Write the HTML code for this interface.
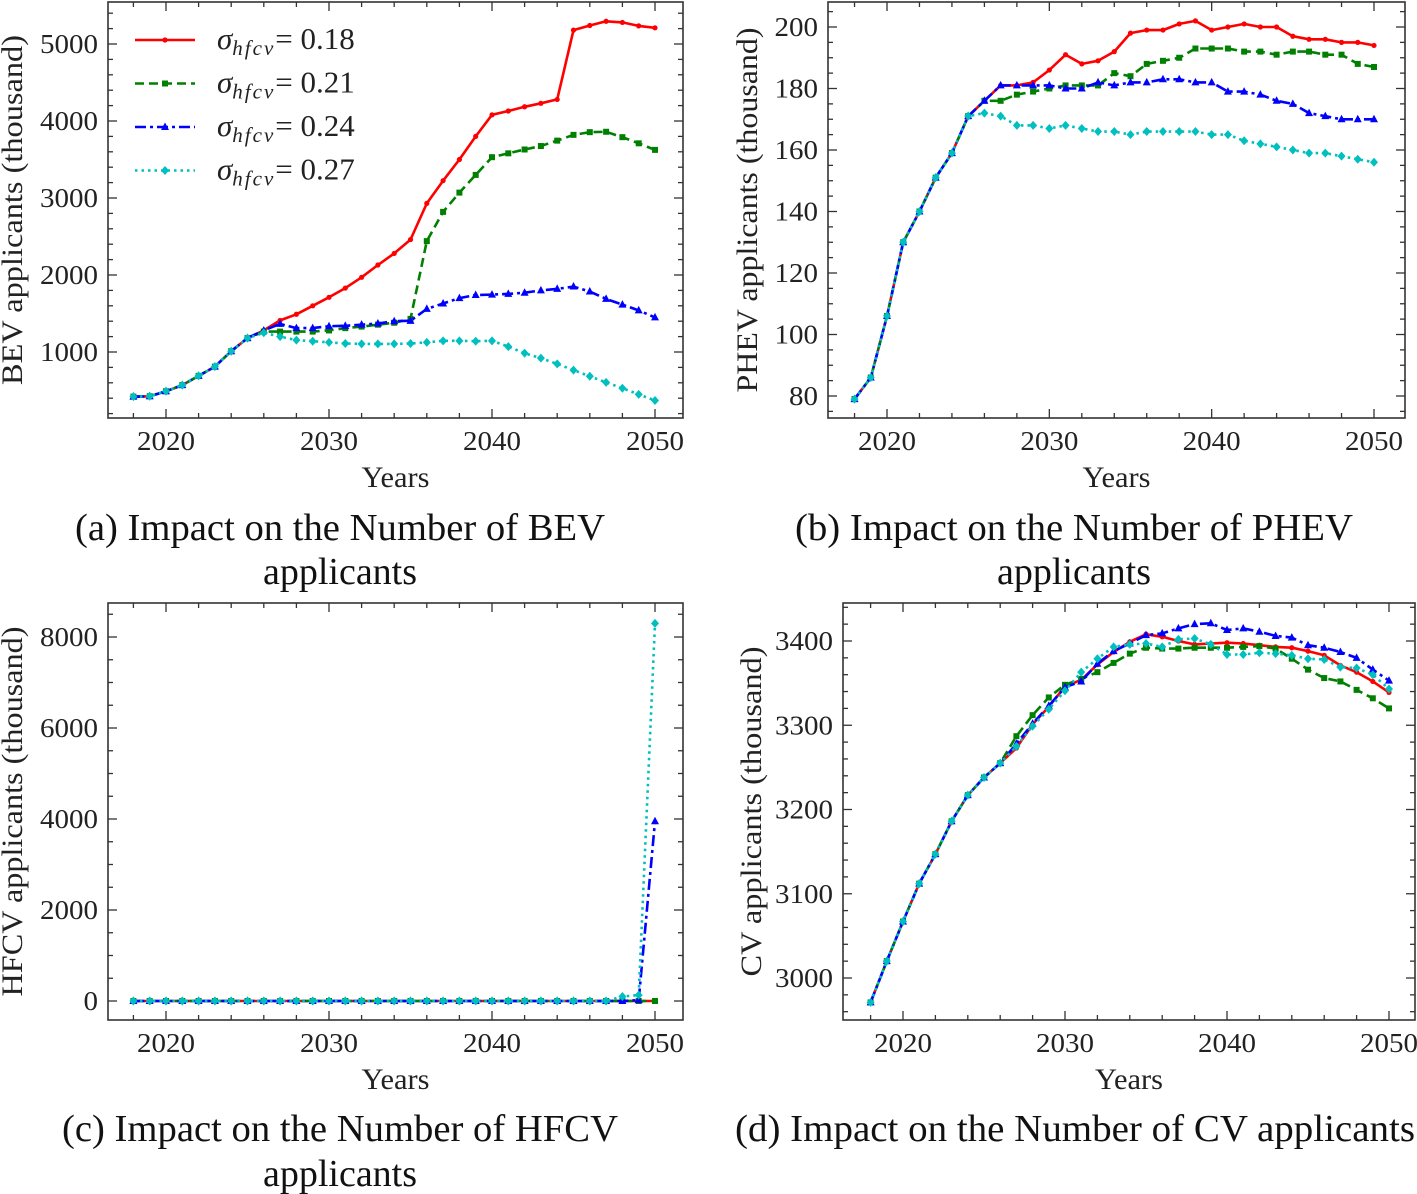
<!DOCTYPE html>
<html><head><meta charset="utf-8">
<style>
html,body{margin:0;padding:0;background:#fff;}
svg{display:block;font-family:"Liberation Serif","DejaVu Serif",serif;}
.tk{font-size:27px;fill:#222;font-family:"Liberation Serif",serif;}
.ax{font-size:30px;fill:#222;}
.cap{font-size:38px;fill:#111;}
.lg{font-size:31px;fill:#222;}
</style></head>
<body>
<svg id="fig" width="1417" height="1194" viewBox="0 0 1417 1194" xmlns="http://www.w3.org/2000/svg">
<text class="cap" x="75" y="540" textLength="530" lengthAdjust="spacingAndGlyphs">(a) Impact on the Number of BEV</text>
<text class="cap" x="340" y="584" text-anchor="middle">applicants</text>
<text class="cap" x="795" y="540" textLength="558" lengthAdjust="spacingAndGlyphs">(b) Impact on the Number of PHEV</text>
<text class="cap" x="1074" y="584" text-anchor="middle">applicants</text>
<text class="cap" x="62" y="1141" textLength="556" lengthAdjust="spacingAndGlyphs">(c) Impact on the Number of HFCV</text>
<text class="cap" x="340" y="1186" text-anchor="middle">applicants</text>
<text class="cap" x="735" y="1141" textLength="680" lengthAdjust="spacingAndGlyphs">(d) Impact on the Number of CV applicants</text>
</svg>
<script>
const years = []; for (let y = 2018; y <= 2050; y++) years.push(y);
const seriesLabels = ["0.18","0.21","0.24","0.27"];
const common = [420,425,490,570,690,810,1010,1180];
const bevRed = common.concat([1280,1410,1490,1600,1710,1830,1970,2130,2280,2460,2930,3225,3500,3800,4080,4130,4185,4230,4280,5180,5240,5295,5280,5235,5210]);
const bevGreen = common.concat([1265,1265,1265,1265,1280,1310,1330,1355,1380,1430,2440,2820,3070,3300,3530,3580,3630,3675,3745,3820,3855,3860,3790,3710,3625]);
const bevBlue = common.concat([1280,1365,1310,1310,1335,1340,1355,1370,1400,1405,1560,1630,1700,1740,1745,1755,1770,1800,1820,1850,1785,1690,1615,1540,1450]);
const bevCyan = common.concat([1250,1200,1155,1140,1125,1110,1105,1105,1105,1110,1125,1145,1145,1140,1145,1070,985,920,845,765,685,605,530,450,370]);
const phCommon = [79,86,106,130,140,151,159,171];
const phevRed = phCommon.concat([176,181,181,182,186,191,188,189,192,198,199,199,201,202,199,200,201,200,200,197,196,196,195,195,194]);
const phevGreen = phCommon.concat([176,176,178,179,180,181,181,181,185,184,188,189,190,193,193,193,192,192,191,192,192,191,191,188,187]);
const phevBlue = phCommon.concat([176,181,181,181,181,180,180,182,181,182,182,183,183,182,182,179,179,178,176,175,172,171,170,170,170]);
const phevCyan = phCommon.concat([172,171,168,168,167,168,167,166,166,165,166,166,166,166,165,165,163,162,161,160,159,159,158,157,156]);
const hfcvRed = years.map(()=>0);
const hfcvGreen = years.map(()=>0);
const hfcvBlue = years.map(()=>0).slice(0,31).concat([20,3950]);
const hfcvCyan = years.map(()=>0).slice(0,30).concat([100,130,8300]);
const cvCommon = [2971,3020,3067,3112,3147,3186,3217,3238,3255];
const cvRed = cvCommon.concat([3273,3301,3322,3346,3354,3372,3387,3399,3408,3405,3400,3396,3397,3398,3397,3395,3393,3392,3388,3383,3371,3363,3352,3339]);
const cvGreen = cvCommon.concat([3287,3312,3333,3348,3355,3363,3374,3385,3392,3391,3391,3392,3392,3392,3393,3394,3391,3379,3366,3356,3352,3342,3332,3320]);
const cvBlue = cvCommon.concat([3278,3302,3323,3345,3352,3373,3388,3397,3407,3409,3415,3420,3421,3413,3415,3411,3406,3404,3395,3392,3387,3380,3366,3353]);
const cvCyan = cvCommon.concat([3275,3299,3319,3341,3363,3379,3393,3396,3397,3393,3402,3403,3396,3384,3384,3386,3385,3383,3379,3378,3369,3368,3360,3343]);
const xTicks = [2020,2030,2040,2050];
const bevTicks = [1000,2000,3000,4000,5000];
const phevTicks = [80,100,120,140,160,180,200];
const hfcvTicks = [0,2000,4000,6000,8000];
const cvTicks = [3000,3100,3200,3300,3400];

const NS = "http://www.w3.org/2000/svg";
const svg = document.getElementById('fig');
function mk(tag, attrs, parent){const e=document.createElementNS(NS,tag);for(const k in attrs)e.setAttribute(k,attrs[k]);(parent||svg).appendChild(e);return e;}
const styles = [
 {c:"#ff0000", dash:"", m:"circle"},
 {c:"#008000", dash:"9,5", m:"square"},
 {c:"#0000ff", dash:"11,4,3,4", m:"tri"},
 {c:"#00bfbf", dash:"2.5,4", m:"diamond"}];
function marker(g,m,x,y,c){
  let e;
  if(m==="circle") e=mk('circle',{cx:x,cy:y,r:2.6,fill:c},g);
  else if(m==="square") e=mk('rect',{x:x-3,y:y-3,width:6,height:6,fill:c},g);
  else if(m==="tri") e=mk('polygon',{points:`${x},${y-4.5} ${x+4},${y+3} ${x-4},${y+3}`,fill:c},g);
  else e=mk('polygon',{points:`${x},${y-4.5} ${x+4},${y} ${x},${y+4.5} ${x-4},${y}`,fill:c},g);
  return e;
}
function panel(p){
  const g = mk('g',{});
  
  
  const X = v => p.x0 + (v-2020)*(p.x1-p.x0)/30;
  const Y = v => p.ya + (v-p.va)*(p.yb-p.ya)/(p.vb-p.va);
  const fr = mk('rect',{x:p.L,y:p.T,width:p.R-p.L,height:p.B-p.T,fill:'none',stroke:'#333','stroke-width':1.6},g);
  
  
  for(let yr=2018; yr<=2050; yr+=2){
    const x=X(yr), major = yr%10===0, len= major?9:5;
    mk('line',{x1:x,y1:p.B,x2:x,y2:p.B-len,stroke:'#333','stroke-width':1.3},g);
    mk('line',{x1:x,y1:p.T,x2:x,y2:p.T+len,stroke:'#333','stroke-width':1.3},g);
  }
  xTicks.forEach(t=>{
    const tx = mk('text',{x:X(t),y:p.B+32,'text-anchor':'middle',class:'tk',textLength:58,lengthAdjust:'spacingAndGlyphs'},g);
    tx.textContent=t;
    
    
  });
  for(let v=p.ymin; v<=p.ymax+1e-9; v+=p.minor){
    const y=Y(v); if(y<p.T||y>p.B) continue;
    const major = Math.abs(v/p.major - Math.round(v/p.major))<1e-6, len=major?9:5;
    mk('line',{x1:p.L,y1:y,x2:p.L+len,y2:y,stroke:'#333','stroke-width':1.3},g);
    mk('line',{x1:p.R,y1:y,x2:p.R-len,y2:y,stroke:'#333','stroke-width':1.3},g);
  }
  p.ticks.forEach(t=>{
    const s=String(t);
    const tx = mk('text',{x:p.L-10,y:Y(t)+9,'text-anchor':'end',class:'tk',textLength:s.length*14.5,lengthAdjust:'spacingAndGlyphs'},g);
    tx.textContent=t;
    
    
  });
  const xl = mk('text',{x:(p.L+p.R)/2,y:p.B+69,'text-anchor':'middle',class:'ax',textLength:68,lengthAdjust:'spacingAndGlyphs'},g);
  xl.textContent='Years';
  
  
  const cy=(p.T+p.B)/2;
  const yl = mk('text',{x:p.ytx,y:cy,'text-anchor':'middle',class:'ax',textLength:p.ylen,lengthAdjust:'spacingAndGlyphs',transform:`rotate(-90 ${p.ytx} ${cy})`},g);
  yl.textContent=p.ytitle;
  
  
  p.series.forEach((s,i)=>{
    const st=styles[i];
    const sg = mk('g',{},g);
    
    
    const pts = s.map((v,k)=>X(years[k]).toFixed(1)+','+Y(v).toFixed(1)).join(' ');
    const pl = mk('polyline',{points:pts,fill:'none',stroke:st.c,'stroke-width':2.6,'stroke-dasharray':st.dash,'stroke-linejoin':'round'},sg);
    
    
    s.forEach((v,k)=>{
      const mm = marker(sg,st.m,X(years[k]),Y(v),st.c);
      
      
    });
  });
  if(p.legend){
    const lg = mk('g',{},g);
    
    
    seriesLabels.forEach((lab,i)=>{
      const st=styles[i], y=40+i*43.5;
      const e = mk('g',{},lg);
      
      
      mk('line',{x1:135,y1:y,x2:195,y2:y,stroke:st.c,'stroke-width':2.6,'stroke-dasharray':st.dash},e);
      marker(e,st.m,165,y,st.c);
      const t = mk('text',{x:217,y:y+9,class:'lg'},e);
      t.innerHTML = `<tspan font-style="italic">σ</tspan><tspan font-style="italic" font-size="21" dy="6" letter-spacing="2">hfcv</tspan><tspan dy="-6">= ${lab}</tspan>`;
    });
  }
}
panel({name:'panel-a-bev',L:108,R:683,T:2,B:418,x0:166,x1:655,ya:352,va:1000,yb:44,vb:5000,ymin:0,ymax:5400,minor:200,major:1000,ticks:bevTicks,ytitle:'BEV applicants (thousand)',ytx:22,ylen:350,series:[bevRed,bevGreen,bevBlue,bevCyan],legend:true});
panel({name:'panel-b-phev',L:828,R:1405,T:2,B:418,x0:887,x1:1374,ya:396,va:80,yb:27,vb:200,ymin:70,ymax:210,minor:5,major:20,ticks:phevTicks,ytitle:'PHEV applicants (thousand)',ytx:757,ylen:365,series:[phevRed,phevGreen,phevBlue,phevCyan]});
panel({name:'panel-c-hfcv',L:108,R:683,T:603,B:1020,x0:166,x1:655,ya:1001,va:0,yb:637,vb:8000,ymin:-500,ymax:9000,minor:500,major:2000,ticks:hfcvTicks,ytitle:'HFCV applicants (thousand)',ytx:22,ylen:370,series:[hfcvRed,hfcvGreen,hfcvBlue,hfcvCyan]});
panel({name:'panel-d-cv',L:843,R:1415,T:603,B:1020,x0:903,x1:1389,ya:978,va:3000,yb:641,vb:3400,ymin:2940,ymax:3460,minor:20,major:100,ticks:cvTicks,ytitle:'CV applicants (thousand)',ytx:761,ylen:330,series:[cvRed,cvGreen,cvBlue,cvCyan]});
</script>
</body></html>
